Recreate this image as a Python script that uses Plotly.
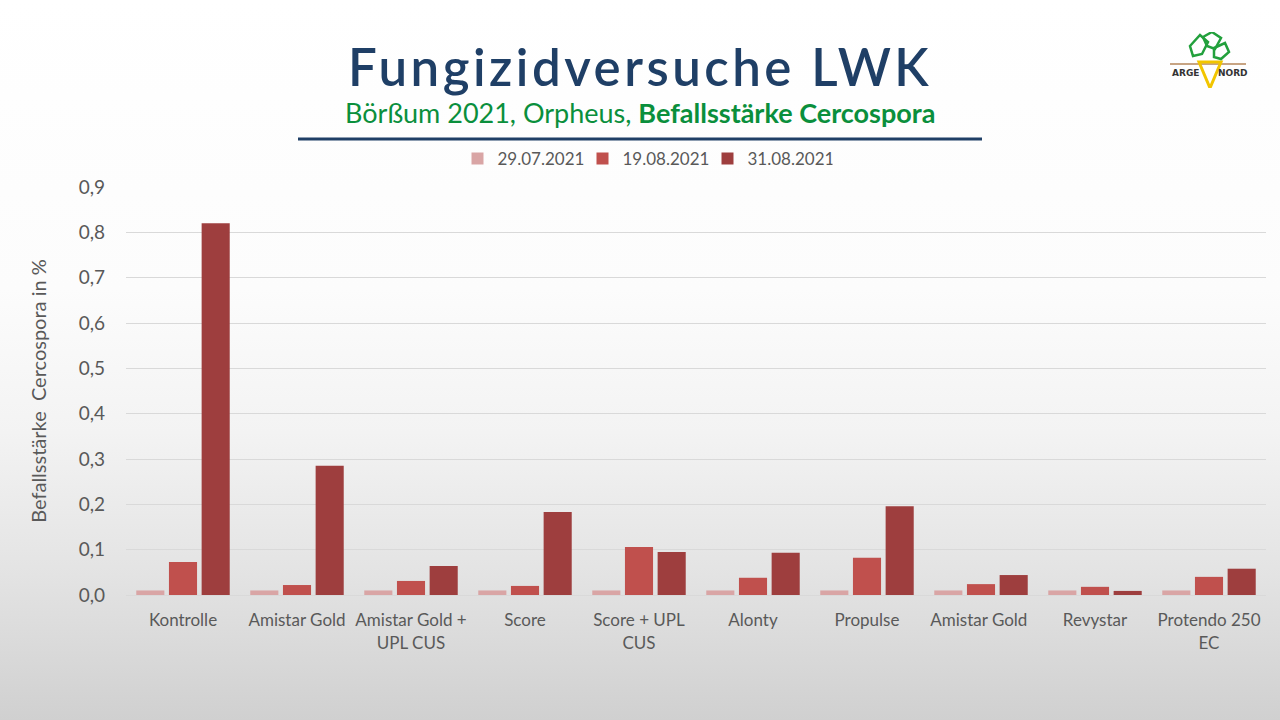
import plotly.graph_objects as go

# data
varianten = ["Kontrolle", "Amistar Gold", "Amistar Gold +<br>UPL CUS", "Score",
             "Score + UPL<br>CUS", "Alonty", "Propulse", "Amistar Gold ",
             "Revystar", "Protendo 250<br>EC"]
termine = ["29.07.2021", "19.08.2021", "31.08.2021"]
werte_2907 = [0.01, 0.01, 0.01, 0.01, 0.01, 0.01, 0.01, 0.01, 0.01, 0.01]
werte_1908 = [0.073, 0.022, 0.031, 0.020, 0.106, 0.038, 0.082, 0.024, 0.018, 0.040]
werte_3108 = [0.820, 0.285, 0.064, 0.183, 0.095, 0.093, 0.196, 0.044, 0.009, 0.058]
farben = ["#d9a5a5", "#c0504d", "#9e3e3e"]

W, H = 1280, 720
ML, MR, MT, MB = 126, 14, 187, 125
PW, PH = W - ML - MR, H - MT - MB

def px_x(px):
    return (px - ML) / PW

def px_y(py):
    return (H - MB - py) / PH

fig = go.Figure()
for name, vals, col in zip(termine, [werte_2907, werte_1908, werte_3108], farben):
    fig.add_trace(go.Bar(x=varianten, y=vals, name=name, marker_color=col,
                         marker_line_width=0))

# background gradient
bg_svg = ("data:image/svg+xml;utf8,<svg xmlns='http://www.w3.org/2000/svg' width='100' height='100' "
          "preserveAspectRatio='none' viewBox='0 0 100 100'><defs><linearGradient id='g' x1='0' y1='0' x2='0' y2='1'>"
          "<stop offset='0' stop-color='%23ffffff'/><stop offset='0.4' stop-color='%23fcfcfc'/>"
          "<stop offset='0.6' stop-color='%23f3f3f3'/><stop offset='0.8' stop-color='%23e3e3e3'/>"
          "<stop offset='1' stop-color='%23d0d0d0'/></linearGradient></defs>"
          "<rect width='100' height='100' fill='url(%23g)'/></svg>")

logo_svg = ("data:image/svg+xml;utf8,<svg xmlns='http://www.w3.org/2000/svg' width='80' height='56' viewBox='0 0 80 56'>"
            "<line x1='2' y1='32' x2='78' y2='32' stroke='%23b5865a' stroke-width='1.5'/>"
            "<polygon points='31,30 53,30 42,56' fill='none' stroke='%23f2c500' stroke-width='3'/>"
            "<polygon points='22,14 32,3 40,10 34,22 25,24' fill='none' stroke='%2322a03c' stroke-width='2.5'/>"
            "<polygon points='35,5 44,0 53,6 47,17 39,14' fill='none' stroke='%2322a03c' stroke-width='2.5'/>"
            "<polygon points='46,16 57,11 61,20 53,27 46,25' fill='none' stroke='%2322a03c' stroke-width='2.5'/>"
            "<text x='4' y='44' font-family='DejaVu Sans' font-weight='bold' font-size='9' fill='%23333333'>ARGE</text>"
            "<text x='50' y='44' font-family='DejaVu Sans' font-weight='bold' font-size='9' fill='%23333333'>NORD</text>"
            "</svg>")

fig.add_layout_image(source=bg_svg, xref="paper", yref="paper",
                     x=px_x(0), y=px_y(0), sizex=W / PW, sizey=H / PH,
                     xanchor="left", yanchor="top", sizing="stretch", layer="below")
fig.add_layout_image(source=logo_svg, xref="paper", yref="paper",
                     x=px_x(1168), y=px_y(32), sizex=80 / PW, sizey=56 / PH,
                     xanchor="left", yanchor="top", sizing="stretch", layer="above")

fig.add_annotation(text="Fungizidversuche LWK", xref="paper", yref="paper",
                   x=px_x(640), y=px_y(67), showarrow=False, yanchor="middle",
                   font=dict(family="Lato", size=51, weight=600, color="#1f3f66"))
fig.add_annotation(text="Börßum 2021, Orpheus, <b>Befallsstärke Cercospora</b>",
                   xref="paper", yref="paper", x=px_x(640), y=px_y(112),
                   showarrow=False, yanchor="middle",
                   font=dict(family="Lato", size=27, color="#0a8f3c"))
fig.add_shape(type="line", xref="paper", yref="paper",
              x0=px_x(298), x1=px_x(982), y0=px_y(139), y1=px_y(139),
              line=dict(color="#1f3f66", width=3))

fig.update_layout(
    width=W, height=H,
    margin=dict(l=ML, r=MR, t=MT, b=MB),
    paper_bgcolor="rgba(0,0,0,0)", plot_bgcolor="rgba(0,0,0,0)",
    barmode="group", bargap=0.14, bargroupgap=0.14,
    separators=",.",
    font=dict(family="Lato", color="#595959"),
    legend=dict(orientation="h", x=px_x(645), xanchor="center", y=px_y(159), yanchor="middle",
                entrywidth=80, entrywidthmode="pixels",
                font=dict(size=17, color="#595959"), bgcolor="rgba(0,0,0,0)"),
    showlegend=True,
)
fig.update_yaxes(range=[0, 0.9], dtick=0.1, tickformat=".1f", showgrid=True,
                 gridcolor="#d9d9d9", gridwidth=1, zeroline=False, showline=False,
                 ticks="", ticklabelstandoff=20, tickfont=dict(size=19, color="#595959"),
                 title=dict(text="Befallsstärke  Cercospora in %", standoff=26,
                            font=dict(size=20, color="#595959")))
fig.update_xaxes(showline=True, linecolor="#d9d9d9", linewidth=1, ticks="",
                 ticklabelstandoff=10, tickfont=dict(size=17, color="#595959"), tickangle=0)

post = ("document.body.style.margin='0';"
        "var t=document.querySelectorAll('.annotation-text');"
        "if(t.length){t[0].style.letterSpacing='3.5px';}")
fig.write_html("out.html", post_script=post, config={"displayModeBar": False})
